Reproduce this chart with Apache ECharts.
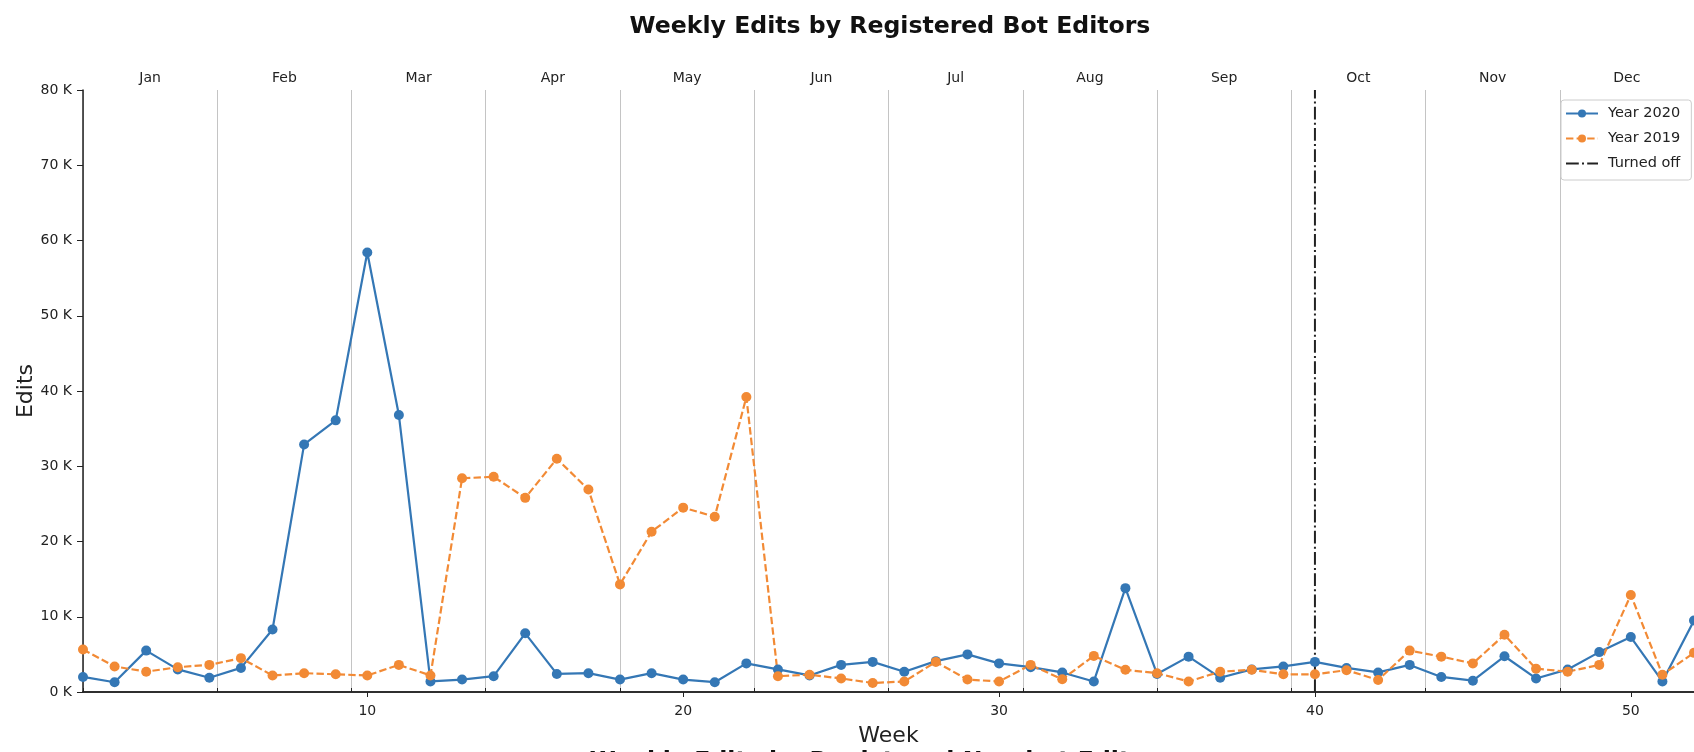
<!DOCTYPE html>
<html>
<head>
<meta charset="utf-8">
<script src="https://cdn.jsdelivr.net/npm/echarts@6/dist/echarts.min.js"></script>
<style>
html,body{margin:0;padding:0;background:#fff;}
#chart{width:1694px;height:752px;}
</style>
</head>
<body>
<div id="chart"></div>
<script>
const weeks = [1,2,3,4,5,6,7,8,9,10,11,12,13,14,15,16,17,18,19,20,21,22,23,24,25,26,27,28,29,30,31,32,33,34,35,36,37,38,39,40,41,42,43,44,45,46,47,48,49,50,51,52];
const edits2020 = [2000,1300,5500,3000,1900,3200,8300,32900,36100,58400,36800,1400,1650,2100,7800,2400,2500,1650,2500,1650,1300,3800,3000,2200,3600,4000,2700,4100,5000,3800,3300,2600,1400,13800,2400,4700,1900,3000,3400,4000,3200,2600,3600,2000,1500,4750,1800,3000,5300,7300,1400,9500];
const edits2019 = [5650,3400,2700,3300,3600,4500,2200,2500,2350,2200,3600,2200,28400,28600,25800,31000,26900,14300,21300,24500,23300,39200,2100,2300,1800,1200,1400,4000,1650,1400,3600,1700,4800,2950,2500,1400,2700,2950,2350,2350,2900,1600,5500,4700,3800,7600,3100,2700,3600,12900,2300,5200];
const months = ['Jan','Feb','Mar','Apr','May','Jun','Jul','Aug','Sep','Oct','Nov','Dec'];
const weekTicks = [10,20,30,40,50];
const turnedOffWeek = 40;
const yMax = 80000;
const titleText = 'Weekly Edits by Registered Bot Editors';
const nextTitleText = 'Weekly Edits by Registered Non-bot Edits';

const FONT = 'DejaVu Sans';
const BLUE = '#3477b5';
const ORANGE = '#f28a35';
const INK = '#222222';
const DASH = [7.4, 3.2];
const DASHDOT = [12.8, 3.2, 2, 3.2];

const chart = echarts.init(document.getElementById('chart'), null, {renderer:'canvas'});
const option = {
  backgroundColor: '#ffffff',
  animation: false,
  textStyle: {fontFamily: FONT},
  grid: {left: 83, top: 90, width: 1613, height: 605, containLabel: false},
  graphic: [
    {type:'text', x: 890, y: 14.5, style:{text: titleText, font: 'bold 23.6px "DejaVu Sans"', fill:'#111', align:'center', verticalAlign:'top'}},
    {type:'text', x: 867, y: 750, style:{text: nextTitleText, font: 'bold 23.6px "DejaVu Sans"', fill:'#111', align:'center', verticalAlign:'top'}}
  ],
  legend: {
    orient: 'vertical', left: 1561, top: 100,
    padding: [6, 11, 9, 4], itemGap: 10, itemWidth: 32, itemHeight: 10,
    backgroundColor: 'rgba(255,255,255,0.85)', borderColor: '#cccccc', borderWidth: 1, borderRadius: 3,
    textStyle: {fontFamily: FONT, fontSize: 14.5, lineHeight: 14, color: INK, padding: [0, 0, 0, 5]},
    data: [
      {name: 'Year 2020', lineStyle: {color: BLUE, width: 2, type: 'solid'}},
      {name: 'Year 2019', lineStyle: {color: ORANGE, width: 2, type: DASH}},
      {name: 'Turned off', itemStyle: {opacity: 0}, lineStyle: {color: INK, width: 2, type: DASHDOT}}
    ]
  },
  xAxis: [
    {
      type: 'value', position: 'bottom', min: 1, max: 52,
      axisLine: {show: true, onZero: false, lineStyle: {color: INK, width: 1.5}},
      axisTick: {show: true, customValues: weekTicks, length: 5, lineStyle: {color: INK}},
      axisLabel: {customValues: weekTicks, fontSize: 14, color: INK, margin: 12, fontFamily: FONT},
      splitLine: {show: false},
      name: 'Week', nameLocation: 'middle', nameGap: 33, nameMoveOverlap: false,
      nameTextStyle: {fontSize: 22, color: INK, fontFamily: FONT}
    },
    {
      type: 'category', position: 'top', data: months, boundaryGap: true,
      axisLine: {show: true, lineStyle: {color: INK, width: 1.5}},
      axisTick: {show: true, length: 4, interval: 0, alignWithLabel: false, lineStyle: {color: INK}},
      axisLabel: {fontSize: 14, color: INK, margin: 5, interval: 0, fontFamily: FONT},
      splitLine: {show: true, interval: 0, lineStyle: {color: '#c4c4c4', width: 1}}
    }
  ],
  yAxis: {
    type: 'value', min: 0, max: yMax, interval: 10000,
    axisLine: {show: true, lineStyle: {color: INK, width: 1.5}},
    axisTick: {show: true, length: 6, lineStyle: {color: INK}},
    axisLabel: {fontSize: 14, color: INK, margin: 11, fontFamily: FONT, formatter: v => (v/1000) + ' K'},
    splitLine: {show: false},
    name: 'Edits', nameLocation: 'middle', nameGap: 46, nameRotate: 90, nameMoveOverlap: false,
    nameTextStyle: {fontSize: 22, color: INK, fontFamily: FONT}
  },
  series: [
    {
      name: 'Year 2020', type: 'line', xAxisIndex: 0,
      data: weeks.map((w, i) => [w, edits2020[i]]),
      symbol: 'circle', symbolSize: 10, showAllSymbol: true,
      lineStyle: {color: BLUE, width: 2.2},
      itemStyle: {color: BLUE}
    },
    {
      name: 'Year 2019', type: 'line', xAxisIndex: 0,
      data: weeks.map((w, i) => [w, edits2019[i]]),
      symbol: 'circle', symbolSize: 10, showAllSymbol: true,
      lineStyle: {color: ORANGE, width: 2.2, type: DASH},
      itemStyle: {color: ORANGE}
    },
    {
      name: 'Turned off', type: 'line', xAxisIndex: 0,
      data: [[turnedOffWeek, 0], [turnedOffWeek, yMax]],
      symbol: 'none',
      lineStyle: {color: INK, width: 2, type: DASHDOT},
      itemStyle: {color: INK}
    }
  ]
};
chart.setOption(option);
</script>
</body>
</html>
